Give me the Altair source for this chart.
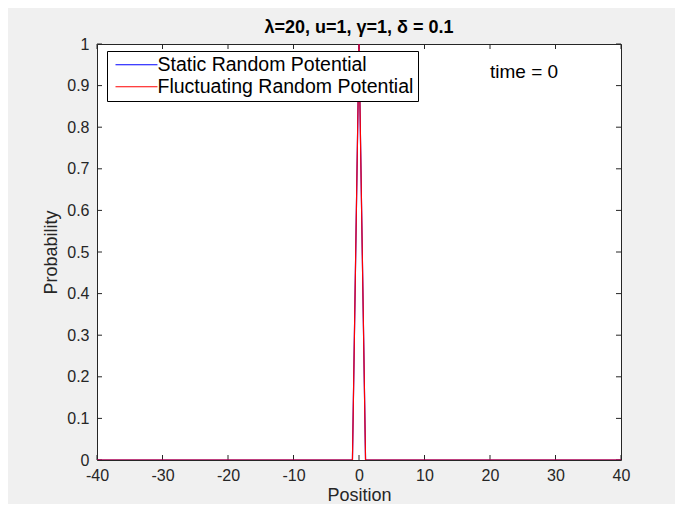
import altair as alt
import pandas as pd

# ---- data ----
positions = list(range(-40, 41))
prob_static = [1.0 if p == 0 else 0.0 for p in positions]
prob_fluct = [1.0 if p == 0 else 0.0 for p in positions]
series_names = ["Static Random Potential", "Fluctuating Random Potential"]
series_colors = ["#0000ff", "#ff0000"]
x_ticks = [-40, -30, -20, -10, 0, 10, 20, 30, 40]
y_ticks = [0, 0.1, 0.2, 0.3, 0.4, 0.5, 0.6, 0.7, 0.8, 0.9, 1]
title_text = "λ=20, u=1, γ=1, δ = 0.1"
time_text = "time = 0"
time_pos = [20, 0.933]

W, H = 524, 416
AX = "#262626"
FONT = "Liberation Sans"
XT = "Position"
YT = "Probability"

df_s = pd.DataFrame({"position": positions, "prob": prob_static, "series": series_names[0]})
df_f = pd.DataFrame({"position": positions, "prob": prob_fluct, "series": series_names[1]})

xscale = alt.Scale(domain=[-40, 40], nice=False, zero=False)
yscale = alt.Scale(domain=[0, 1], nice=False)
cscale = alt.Scale(domain=series_names, range=series_colors)

xaxis = alt.Axis(values=x_ticks, labelExpr="'' + datum.value", ticks=False, domain=False,
                 grid=False, labelPadding=7, labelFlush=False, titlePadding=3)
yaxis = alt.Axis(values=y_ticks, format="~g", ticks=False, domain=False, grid=False,
                 labelPadding=8, labelFlush=False, titlePadding=6)

legend = alt.Legend(
    title=None, orient="none", legendX=10, legendY=7,
    symbolType="M-1,0H7", symbolSize=110, symbolStrokeWidth=1.2, symbolOpacity=1,
    labelFontSize=19.5, labelFont=FONT, labelColor="black", labelOffset=27,
    rowPadding=1, padding=4, strokeColor="black", fillColor="white",
    cornerRadius=0, labelLimit=400,
)

line_s = alt.Chart(df_s).mark_line(strokeWidth=1.2, clip=True).encode(
    x=alt.X("position:Q", scale=xscale, title=XT, axis=xaxis),
    y=alt.Y("prob:Q", scale=yscale, title=YT, axis=yaxis),
    color=alt.Color("series:N", scale=cscale, legend=legend),
)
line_f = alt.Chart(df_f).mark_line(strokeWidth=1.2, clip=True).encode(
    x=alt.X("position:Q", scale=xscale, title=XT, axis=xaxis),
    y=alt.Y("prob:Q", scale=yscale, title=YT, axis=yaxis),
    color=alt.Color("series:N", scale=cscale, legend=legend),
)

xt = pd.DataFrame({"t": x_ticks})
yt = pd.DataFrame({"t": y_ticks})
tick_bottom = alt.Chart(xt).mark_rule(color=AX, strokeWidth=1).encode(
    x=alt.X("t:Q", scale=xscale, title=XT, axis=xaxis), y=alt.value(H), y2=alt.value(H - 5))
tick_top = alt.Chart(xt).mark_rule(color=AX, strokeWidth=1).encode(
    x=alt.X("t:Q", scale=xscale, title=XT, axis=xaxis), y=alt.value(0), y2=alt.value(5))
tick_left = alt.Chart(yt).mark_rule(color=AX, strokeWidth=1).encode(
    y=alt.Y("t:Q", scale=yscale, title=YT, axis=yaxis), x=alt.value(0), x2=alt.value(5))
tick_right = alt.Chart(yt).mark_rule(color=AX, strokeWidth=1).encode(
    y=alt.Y("t:Q", scale=yscale, title=YT, axis=yaxis), x=alt.value(W - 5), x2=alt.value(W))

tdf = pd.DataFrame({"x": [time_pos[0]], "y": [time_pos[1]], "label": [time_text]})
time_mark = alt.Chart(tdf).mark_text(align="left", baseline="middle", fontSize=19,
                                     font=FONT, color="black").encode(
    x=alt.X("x:Q", scale=xscale, title=XT, axis=xaxis),
    y=alt.Y("y:Q", scale=yscale, title=YT, axis=yaxis),
    text="label:N",
)

chart = alt.layer(
    tick_bottom, tick_top, tick_left, tick_right, line_s, line_f, time_mark
).properties(
    width=W, height=H,
    title=alt.Title(title_text, fontSize=18, fontWeight="bold", font=FONT,
                    color="black", offset=-1, anchor="middle"),
    autosize=alt.AutoSizeParams(type="none"),
    padding={"left": 89, "top": 36, "right": 54, "bottom": 44},
).configure(
    background="#f0f0f0",
).configure_view(
    stroke=AX, strokeWidth=1, fill="white",
).configure_axis(
    labelFont=FONT, labelFontSize=16, labelColor=AX,
    titleFont=FONT, titleFontSize=18, titleColor=AX, titleFontWeight="normal",
)

chart.save("out.html", embed_options={"renderer": "svg", "actions": False})
